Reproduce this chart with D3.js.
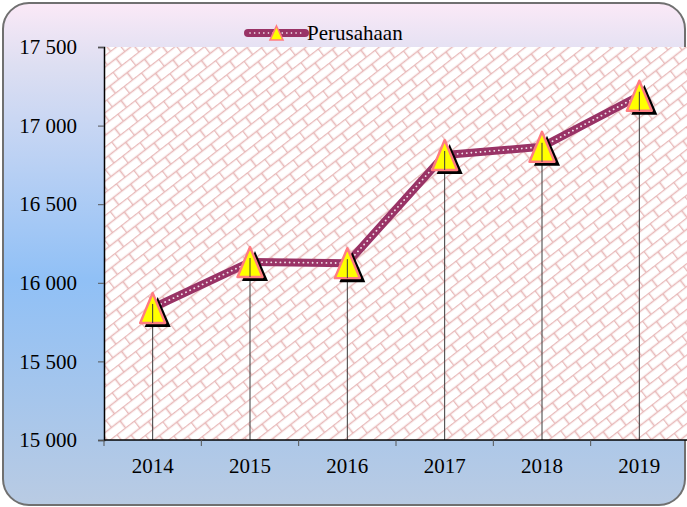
<!DOCTYPE html>
<html>
<head>
<meta charset="utf-8">
<script src="https://cdn.jsdelivr.net/npm/d3@7"></script>
<style>
  body { margin: 0; background: #ffffff; }
  svg text { font-family: "Liberation Serif", "Times New Roman", serif; }
</style>
</head>
<body>
<div id="chart"></div>
<script>
// data
const years = ["2014", "2015", "2016", "2017", "2018", "2019"];
const perusahaan = [15840, 16132, 16125, 16813, 16865, 17190];
const yTicks = [15000, 15500, 16000, 16500, 17000, 17500];
const seriesName = "Perusahaan";

const W = 687, H = 507;
const plot = { left: 104, right: 688, top: 47, bottom: 440 };
const serif = "'Liberation Serif', 'Times New Roman', serif";

const svg = d3.select("#chart").append("svg")
    .attr("width", W).attr("height", H);

const defs = svg.append("defs");

// background gradient of the rounded frame
const bg = defs.append("linearGradient").attr("id", "bgGrad")
    .attr("x1", 0).attr("y1", 0).attr("x2", 0).attr("y2", 1);
bg.append("stop").attr("offset", "0%").attr("stop-color", "#fbe9f7");
bg.append("stop").attr("offset", "12%").attr("stop-color", "#dedff2");
bg.append("stop").attr("offset", "55%").attr("stop-color", "#90c0f6");
bg.append("stop").attr("offset", "100%").attr("stop-color", "#b9cbe3");

// brick pattern of the plot area
const brick = defs.append("pattern").attr("id", "brick")
    .attr("patternUnits", "userSpaceOnUse")
    .attr("width", 22).attr("height", 18)
    .attr("patternTransform", "rotate(-38)");
brick.append("rect").attr("width", 22).attr("height", 18).attr("fill", "#ffffff");
brick.append("path")
    .attr("d", "M0,0.5H22M0,9.5H22M0.5,0V9.5M11.5,9.5V18")
    .attr("stroke", "#e8b9b9").attr("stroke-width", 1.6).attr("fill", "none");

defs.append("clipPath").attr("id", "plotClip")
  .append("rect").attr("x", plot.left).attr("y", plot.top)
    .attr("width", plot.right - plot.left).attr("height", plot.bottom - plot.top);

// frame
svg.append("rect")
    .attr("x", 3).attr("y", 3).attr("width", 682).attr("height", 502)
    .attr("rx", 26).attr("ry", 26)
    .attr("fill", "url(#bgGrad)")
    .attr("stroke", "#707070").attr("stroke-width", 2);

svg.append("rect")
    .attr("x", plot.left).attr("y", plot.top)
    .attr("width", plot.right - plot.left).attr("height", plot.bottom - plot.top)
    .attr("fill", "url(#brick)");

// scales
const x = d3.scaleBand().domain(years).range([plot.left, plot.right]).padding(0);
const y = d3.scaleLinear().domain([15000, 17500]).range([plot.bottom, plot.top]);

const fmt = d3.formatLocale({ decimal: ",", thousands: " ", grouping: [3], currency: ["", ""] }).format(",");

// y axis
const yAxis = svg.append("g").attr("transform", `translate(${plot.left},0)`)
    .call(d3.axisLeft(y).tickValues(yTicks).tickFormat(fmt).tickSize(6).tickPadding(21));
yAxis.attr("font-family", serif);
yAxis.select(".domain").attr("stroke", "#000").attr("stroke-width", 1.5);
yAxis.selectAll(".tick line").attr("stroke", "#555");
yAxis.selectAll("text").attr("font-size", 21).attr("fill", "#000");

// drop lines
const cx = d => x(d) + x.bandwidth() / 2;
svg.append("g").attr("clip-path", "url(#plotClip)")
  .selectAll("line").data(years).join("line")
    .attr("x1", d => cx(d)).attr("x2", d => cx(d))
    .attr("y1", (d, i) => y(perusahaan[i])).attr("y2", plot.bottom)
    .attr("stroke", "#3a3a3a").attr("stroke-width", 1);

// x axis
const xAxis = svg.append("g").attr("transform", `translate(0,${plot.bottom})`)
    .call(d3.axisBottom(x).tickSize(0).tickPadding(18));
xAxis.attr("font-family", serif);
xAxis.select(".domain").remove();
xAxis.append("line").attr("x1", plot.left).attr("x2", plot.right)
    .attr("stroke", "#000").attr("stroke-width", 1.5);
xAxis.selectAll(".bound").data(years.concat(["end"])).join("line").attr("class", "bound")
    .attr("x1", d => d === "end" ? plot.right : x(d))
    .attr("x2", d => d === "end" ? plot.right : x(d))
    .attr("y1", 0).attr("y2", 6).attr("stroke", "#555");
xAxis.selectAll("text").attr("font-size", 21).attr("fill", "#000");

// series line: thick magenta with white dots
const line = d3.line().x(d => cx(d.year)).y(d => y(d.value));
const pts = years.map((yr, i) => ({ year: yr, value: perusahaan[i] }));
svg.append("path").datum(pts).attr("d", line)
    .attr("fill", "none").attr("stroke", "#993366").attr("stroke-width", 8)
    .attr("stroke-linejoin", "round");
svg.append("path").datum(pts).attr("d", line)
    .attr("fill", "none").attr("stroke", "#ffffff").attr("stroke-width", 1.8)
    .attr("stroke-dasharray", "0.1 4.5").attr("stroke-linecap", "round").attr("opacity", 0.85);

// markers
const tri = (h, w) => `M0,${-h}L${w},${h}L${-w},${h}Z`;
const mk = svg.append("g").selectAll("g").data(pts).join("g")
    .attr("transform", d => `translate(${cx(d.year)},${y(d.value)})`);
mk.append("path").attr("d", tri(15, 13)).attr("transform", "translate(5,4)").attr("fill", "#000");
mk.append("path").attr("d", tri(15, 12.5)).attr("fill", "#ffff00")
    .attr("stroke", "#ff7c80").attr("stroke-width", 2.4).attr("stroke-linejoin", "round");
mk.append("line").attr("x1", 0).attr("x2", 0).attr("y1", -4).attr("y2", 15)
    .attr("stroke", "#3a3a3a").attr("stroke-width", 1);

// legend
const lg = svg.append("g").attr("transform", "translate(248,33)");
lg.append("line").attr("x1", 0).attr("x2", 57).attr("stroke", "#993366")
    .attr("stroke-width", 8).attr("stroke-linecap", "round");
lg.append("line").attr("x1", 2).attr("x2", 55).attr("stroke", "#ffffff")
    .attr("stroke-width", 1.6).attr("stroke-dasharray", "0.1 4.5").attr("stroke-linecap", "round");
lg.append("path").attr("d", tri(7, 6.5)).attr("transform", "translate(28.5,0)")
    .attr("fill", "#ffff00").attr("stroke", "#ff7c80").attr("stroke-width", 1.6);
lg.append("text").attr("x", 59).attr("y", 7).attr("font-size", 21).attr("fill", "#000")
    .attr("font-family", serif)
    .text(seriesName);
</script>
</body>
</html>
